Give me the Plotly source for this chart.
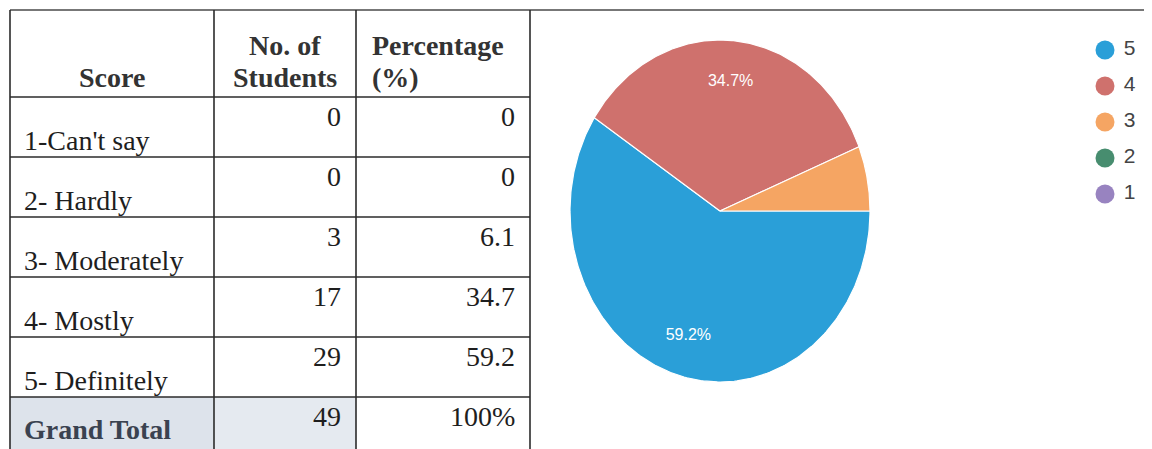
import numpy as np
import plotly.graph_objects as go

# ---- data ----
scores = ["1-Can't say", "2- Hardly", "3- Moderately", "4- Mostly", "5- Definitely"]
students = [0, 0, 3, 17, 29]
percentages = [0, 0, 6.1, 34.7, 59.2]
total_label = "Grand Total"
total_students = 49
total_percent = "100%"
header_score = "Score"
header_students = ["No. of", "Students"]
header_percent = ["Percentage", "(%)"]

pie_labels = ["5", "4", "3", "2", "1"]
pie_values = [29, 17, 3, 0, 0]
pie_colors = ["#2a9fd8", "#cf716d", "#f5a563", "#478d6f", "#9883c0"]

# ---- layout constants (pixel space of the page) ----
W, H = 1152, 449
col_x = [10, 214, 356, 530]          # table column boundaries
header_top, header_bottom = 10, 97
row_h = 60
table_font = "Liberation Serif"
fs = 28
line_col = "#2b2b2b"

cx, cy, rx, ry = 720, 211, 150, 171  # pie centre and radii
leg_x, leg_y0, leg_dy = 1105, 50, 36

fig = go.Figure()
shapes = []
annotations = []

def hline(y, x0, x1, color=line_col, width=1.6):
    shapes.append(dict(type="line", x0=x0, x1=x1, y0=y, y1=y, xref="x", yref="y",
                       line=dict(color=color, width=width), layer="above"))

def vline(x, y0, y1, color=line_col, width=1.6):
    shapes.append(dict(type="line", x0=x, x1=x, y0=y0, y1=y1, xref="x", yref="y",
                       line=dict(color=color, width=width), layer="above"))

def text(x, y, s, anchor="left", bold=False, color="#1e1e1e"):
    annotations.append(dict(x=x, y=y, xref="x", yref="y", text=f"<b>{s}</b>" if bold else s,
                            showarrow=False, xanchor=anchor, yanchor="middle",
                            font=dict(family=table_font, size=fs, color=color)))

n_rows = len(scores) + 1
row_tops = [header_bottom + i * row_h for i in range(n_rows)]

# shaded cells of the total row
last_top = row_tops[-1]
shapes.append(dict(type="rect", x0=col_x[0], x1=col_x[1], y0=last_top, y1=H + 5,
                   xref="x", yref="y", fillcolor="#dde3eb", line=dict(width=0), layer="below"))
shapes.append(dict(type="rect", x0=col_x[1], x1=col_x[2], y0=last_top, y1=H + 5,
                   xref="x", yref="y", fillcolor="#e5eaf0", line=dict(width=0), layer="below"))

# grid
hline(header_top, col_x[0], W - 8, color="#4a4a4a")
for yt in row_tops:
    hline(yt, col_x[0], col_x[-1])
for xc in col_x:
    vline(xc, header_top, H + 5)

# header text
text((col_x[0] + col_x[1]) / 2, 77, header_score, anchor="center", bold=True, color="#333")
text((col_x[1] + col_x[2]) / 2, 45, header_students[0], anchor="center", bold=True, color="#333")
text((col_x[1] + col_x[2]) / 2, 77, header_students[1], anchor="center", bold=True, color="#333")
text(col_x[2] + 14, 45, header_percent[0], bold=True, color="#333")
text(col_x[2] + 14, 77, header_percent[1], bold=True, color="#333")

# body rows
for i, (lab, n, p) in enumerate(zip(scores, students, percentages)):
    top = row_tops[i]
    text(col_x[0] + 12, top + row_h - 17, lab)
    text(col_x[2] - 13, top + 19, str(n), anchor="right")
    text(col_x[3] - 13, top + 19, f"{p:g}", anchor="right")

# total row
text(col_x[0] + 12, last_top + row_h - 28, total_label, bold=True, color="#3a4250")
text(col_x[2] - 13, last_top + 19, str(total_students), anchor="right")
text(col_x[3] - 13, last_top + 19, total_percent, anchor="right")

# ---- pie: wedges drawn clockwise from 3 o'clock ----
total = sum(pie_values)
start = 0.0
for lab, v, c in zip(pie_labels, pie_values, pie_colors):
    if v <= 0:
        continue
    frac = v / total
    theta = np.radians(np.linspace(start, start - 360 * frac, 200))
    xs = np.concatenate([[cx], cx + rx * np.cos(theta), [cx]])
    ys = np.concatenate([[cy], cy - ry * np.sin(theta), [cy]])
    fig.add_trace(go.Scatter(x=xs, y=ys, fill="toself", fillcolor=c, mode="lines",
                             line=dict(color="white", width=1.2), hoverinfo="skip",
                             showlegend=False))
    if frac >= 0.1:
        mid = np.radians(start - 180 * frac)
        fig.add_trace(go.Scatter(x=[cx + 0.74 * rx * np.cos(mid)], y=[cy - 0.76 * ry * np.sin(mid)],
                                 mode="text", text=[f"{frac * 100:.1f}%"],
                                 textfont=dict(family="Liberation Sans", size=16, color="white"),
                                 hoverinfo="skip", showlegend=False))
    start -= 360 * frac

# ---- legend ----
fig.add_trace(go.Scatter(
    x=[leg_x] * len(pie_labels),
    y=[leg_y0 + i * leg_dy for i in range(len(pie_labels))],
    mode="markers+text", text=[f" {l}" for l in pie_labels], textposition="middle right",
    marker=dict(size=19, color=pie_colors),
    textfont=dict(family="Liberation Sans", size=21, color="#444"),
    hoverinfo="skip", showlegend=False))

fig.update_layout(
    width=W, height=H, margin=dict(l=0, r=0, t=0, b=0),
    paper_bgcolor="white", plot_bgcolor="white",
    xaxis=dict(range=[0, W], visible=False, fixedrange=True),
    yaxis=dict(range=[H, 0], visible=False, fixedrange=True),
    shapes=shapes, annotations=annotations, showlegend=False,
)

fig.write_html("out.html")
